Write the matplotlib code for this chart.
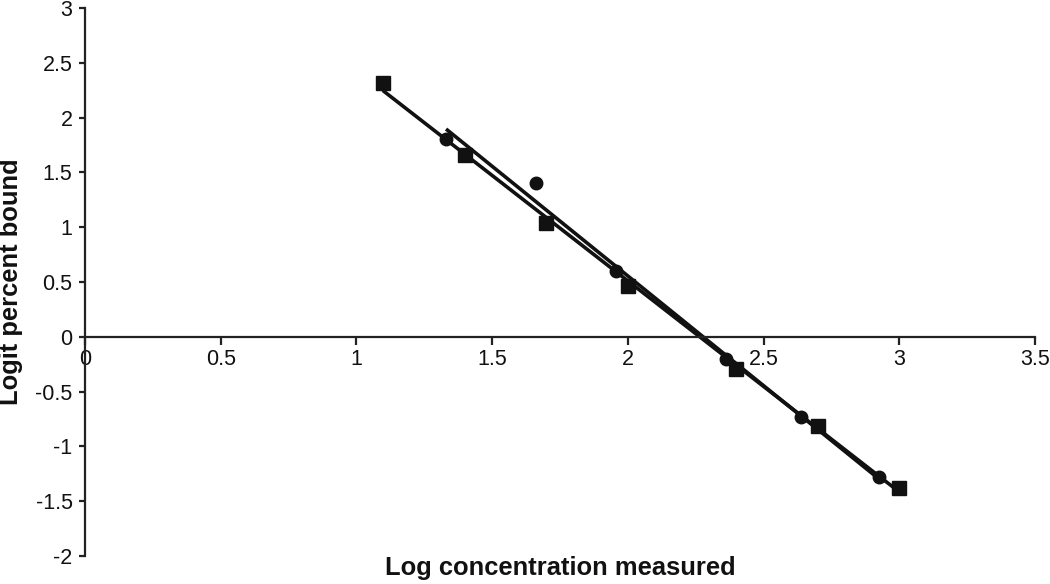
import numpy as np
import matplotlib.pyplot as plt

# Log of nominal concentration (squares) and measured (circles)
x_sq = [1.097, 1.398, 1.699, 2.0, 2.398, 2.699, 3.0]
y_sq = [2.32, 1.66, 1.04, 0.46, -0.29, -0.81, -1.375]

x_ci = [1.33, 1.66, 1.955, 2.36, 2.637, 2.925]
y_ci = [1.805, 1.405, 0.597, -0.204, -0.728, -1.283]

plt.rcParams['font.family'] = ['Liberation Sans', 'DejaVu Sans']

fig = plt.figure(figsize=(10.5, 5.84), dpi=100)
ax = fig.add_axes([0.081, 0.0479, 0.9048, 0.9384])

c = '#111111'

# Linear trend lines for each series
for xs, ys in [(x_sq, y_sq), (x_ci, y_ci)]:
    xs = np.array(xs)
    a, b = np.polyfit(xs, ys, 1)
    xx = np.array([xs.min(), xs.max()])
    ax.plot(xx, a * xx + b, color=c, lw=2.6, solid_capstyle='butt', zorder=2)

ax.plot(x_ci, y_ci, 'o', color=c, ms=9, zorder=3)
ax.plot(x_sq, y_sq, 's', color=c, ms=10.5, zorder=3)

ax.set_xlim(0, 3.5)
ax.set_ylim(-2, 3)
ax.set_xticks(np.arange(0, 3.51, 0.5))
ax.set_yticks(np.arange(-2, 3.01, 0.5))
ax.set_xticklabels(['0', '0.5', '1', '1.5', '2', '2.5', '3', '3.5'])
ax.set_yticklabels(['-2', '-1.5', '-1', '-0.5', '0', '0.5', '1', '1.5', '2', '2.5', '3'])

ax.spines['top'].set_visible(False)
ax.spines['right'].set_visible(False)
ax.spines['bottom'].set_position(('data', 0))
for s in ['left', 'bottom']:
    ax.spines[s].set_linewidth(1.6)
    ax.spines[s].set_color('#222222')
ax.tick_params(axis='both', labelsize=15.5, width=1.6, color='#222222', labelcolor='#111111')
ax.tick_params(axis='x', length=5.5, pad=3)
ax.tick_params(axis='y', length=4, pad=5)

ax.set_xlabel('Log concentration measured', fontsize=18.4, fontweight='bold',
              va='baseline', color='#111111')
ax.set_ylabel('Logit percent bound', fontsize=18.4, fontweight='bold', color='#111111')
ax.xaxis.set_label_coords(0.5, -0.0347)
ax.yaxis.set_label_coords(-0.065, 0.5)

fig.savefig('out.png', dpi=100)
